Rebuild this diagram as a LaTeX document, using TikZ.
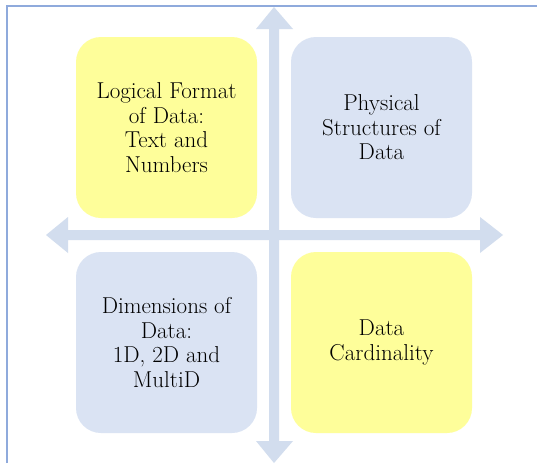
\documentclass[tikz,border=0pt]{standalone}
\usepackage{fontspec}
\setmainfont{Latin Modern Roman}
\definecolor{boxyellow}{HTML}{FEFE9A}
\definecolor{boxblue}{HTML}{DAE3F3}
\definecolor{arrowblue}{HTML}{D2DDEE}
\definecolor{framecol}{HTML}{8FAADC}
\tikzset{
  quad/.style={rounded corners=25pt, minimum width=181pt, minimum height=181pt,
    inner sep=0pt, align=center, font=\fontsize{23}{24.5}\selectfont, text=black},
  yq/.style={quad, fill=boxyellow},
  bq/.style={quad, fill=boxblue},
  axis/.style={fill=arrowblue},
}
\begin{document}
\begin{tikzpicture}[x=1pt,y=-1pt]
\useasboundingbox (0,0) rectangle (537,463);
\fill[white] (0,0) rectangle (537,463);
% frame
\draw[framecol, line width=1.5pt] (7,463) -- (7,6) -- (537,6);
% axes
\fill[axis] (269,29) -- (256,29) -- (274,7) -- (293,29) -- (279,29)
  -- (279,441) -- (293,441) -- (274,463) -- (256,441) -- (269,441) -- cycle;
\fill[axis] (68,230) -- (68,217) -- (46,235) -- (68,253) -- (68,240)
  -- (480,240) -- (480,253) -- (503,235) -- (480,217) -- (480,230) -- cycle;
% boxes
\node[yq] (logical) at (166.5,127.5) {Logical Format\\of Data:\\Text and\\Numbers};
\node[bq] (physical) at (381.5,127.5) {Physical\\Structures of\\Data};
\node[bq] (dimensions) at (166.5,342.5) {Dimensions of\\Data:\\1D, 2D and\\MultiD};
\node[yq] (cardinality) at (381.5,342.5) {Data\\Cardinality};
\end{tikzpicture}
\end{document}
